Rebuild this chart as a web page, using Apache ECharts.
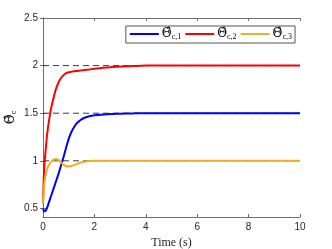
<!DOCTYPE html>
<html><head><meta charset="utf-8">
<script src="https://cdn.jsdelivr.net/npm/echarts@6/dist/echarts.min.js"></script>
<style>html,body{margin:0;padding:0;background:#fff}#c{width:332px;height:249px}</style>
</head><body><div id="c"></div>
<script>
var time = [0,0.05,0.1,0.15,0.2,0.3,0.4,0.5,0.6,0.7,0.8,0.9,1.0,1.1,1.2,1.3,1.4,1.5,1.6,1.8,2.0,2.5,3,3.5,4,5,6,7,8,9,10];
var theta1 = [0.5,0.47,0.475,0.5,0.54,0.62,0.70,0.78,0.86,0.95,1.04,1.14,1.23,1.30,1.35,1.39,1.415,1.435,1.45,1.468,1.478,1.49,1.495,1.498,1.5,1.5,1.5,1.5,1.5,1.5,1.5];
var theta2 = [0.55,0.95,1.10,1.25,1.36,1.53,1.65,1.75,1.82,1.87,1.90,1.92,1.93,1.935,1.94,1.943,1.946,1.95,1.953,1.96,1.968,1.98,1.99,1.995,2,2,2,2,2,2,2];
var theta3 = [0.55,0.75,0.85,0.9,0.94,0.985,1.01,1.02,1.01,0.985,0.96,0.945,0.94,0.945,0.955,0.965,0.975,0.985,0.99,0.997,1.0,1.0,1.0,1.0,1.0,1.0,1.0,1.0,1.0,1.0,1.0];
var refLevels = [1, 1.5, 2];
var xTicks = [0,2,4,6,8,10];
var yTicks = [0.5,1,1.5,2,2.5];
var names = ['s1','s2','s3'];
var labels = {s1:'1', s2:'2', s3:'3'};
var colors = ['#0000ff','#ff0000','#edb120'];

function pairs(v){ return time.map(function(t,i){return [t,v[i]];}); }
var chart = echarts.init(document.getElementById('c'));
var axisCol = '#6e6e6e';
var series = [];
refLevels.forEach(function(l){
  series.push({type:'line', data:[[0,l],[10,l]], showSymbol:false, silent:true,
    lineStyle:{color:'#3a3a3a', width:1, type:[6,4]}, z:1});
});
[theta1,theta2,theta3].forEach(function(v,i){
  series.push({name:names[i], type:'line', data:pairs(v), showSymbol:false, smooth:0.3,
    lineStyle:{color:colors[i], width:2}, itemStyle:{color:colors[i]}, z:3});
});
var rich = {
  th:{fontFamily:'DejaVu Serif', fontSize:12, color:'#000'},
  sub:{fontFamily:'Liberation Serif', fontSize:8, color:'#000', verticalAlign:'bottom', padding:[6,0,0,0]}
};
chart.setOption({
  animation:false,
  grid:{left:43, right:32, top:18, bottom:32, containLabel:false, outerBoundsMode:'none'},
  legend:{
    data:names, right:37, top:26, orient:'horizontal',
    itemWidth:29, itemHeight:2, itemGap:4, icon:'rect',
    borderColor:'#555', borderWidth:1, padding:[2,3,2,4], backgroundColor:'#fff',
    formatter:function(n){ return '{th|\u0398\u0302}{sub|c,' + labels[n] + '}'; },
    textStyle:{rich:rich, padding:[0,0,0,-2]}
  },
  xAxis:[{
    type:'value', min:0, max:10, interval:2,
    name:'Time (s)', nameLocation:'middle', nameGap:20, nameMoveOverlap:false,
    nameTextStyle:{fontFamily:'Liberation Serif', fontSize:12, color:'#262626'},
    axisLine:{lineStyle:{color:axisCol}}, splitLine:{show:false},
    axisTick:{inside:true, length:3, lineStyle:{color:axisCol}},
    axisLabel:{fontFamily:'Liberation Sans', fontSize:10, color:'#262626', margin:5}
  },{
    type:'value', min:0, max:10, interval:2, position:'top',
    axisLine:{lineStyle:{color:axisCol}}, splitLine:{show:false},
    axisTick:{inside:true, length:3, lineStyle:{color:axisCol}}, axisLabel:{show:false}
  }],
  yAxis:[{
    type:'value', min:0.41, max:2.5,
    name:'{th|\u0398\u0302}{sub|c}', nameLocation:'middle', nameGap:25, nameRotate:90, nameMoveOverlap:false,
    nameTextStyle:{rich:rich},
    axisLine:{show:true, lineStyle:{color:axisCol}}, splitLine:{show:false},
    axisTick:{inside:true, length:3, lineStyle:{color:axisCol}, customValues:yTicks},
    axisLabel:{fontFamily:'Liberation Sans', fontSize:10, color:'#262626', margin:5, customValues:yTicks}
  },{
    type:'value', min:0.41, max:2.5, position:'right',
    axisLine:{show:true, lineStyle:{color:axisCol}}, splitLine:{show:false},
    axisTick:{inside:true, length:3, lineStyle:{color:axisCol}, customValues:yTicks},
    axisLabel:{show:false}
  }],
  series:series
});
</script></body></html>
